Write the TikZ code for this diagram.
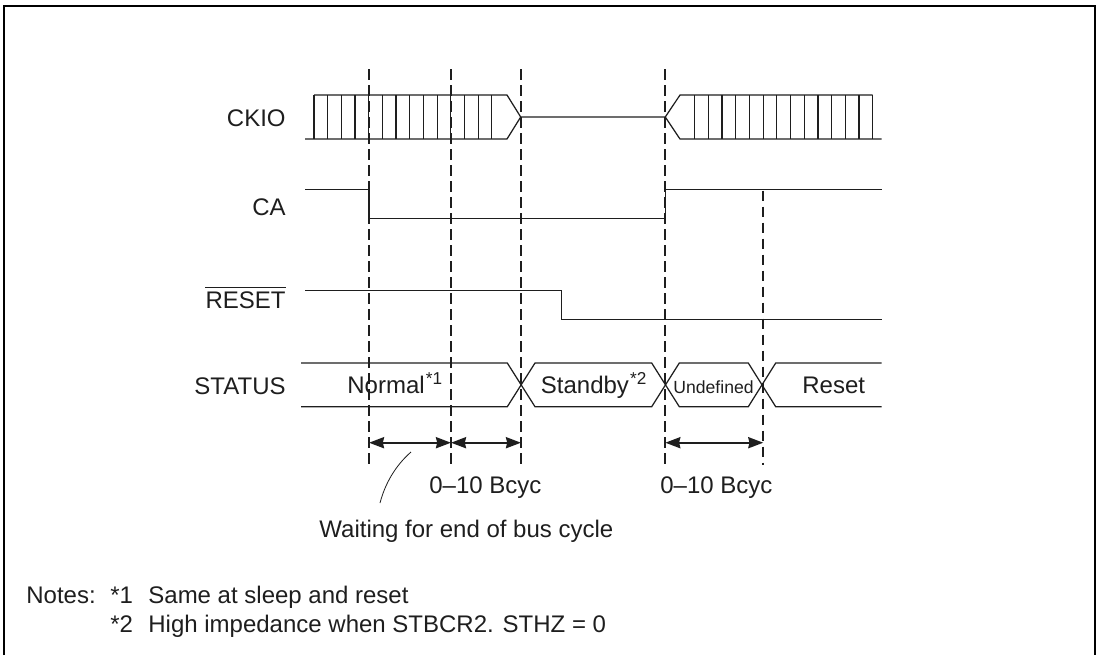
\documentclass[tikz,border=0pt]{standalone}
\usepackage{fontspec}
\setmainfont{Liberation Sans}
\usetikzlibrary{arrows.meta}
\definecolor{sigclr}{RGB}{30,30,30}
\newcommand{\notemark}[1]{\kern0.6pt\raisebox{4.4pt}{\fontsize{8.6}{9}\selectfont #1}}
\tikzset{
  % signal lines
  sigline/.style   = {line width=0.62pt, draw=sigclr},
  guideline/.style = {line width=0.6pt, draw=sigclr, dash pattern=on 5.3pt off 2.7pt},
  frameline/.style = {line width=1pt, draw=black},
  % spans
  dimline/.style   = {{Stealth[length=7.5pt,width=5.5pt,inset=0.6pt]}-{Stealth[length=7.5pt,width=5.5pt,inset=0.6pt]}, line width=1.15pt, draw=sigclr},
  barline/.style   = {line width=0.5pt, draw=sigclr},
  leaderline/.style= {line width=0.4pt, draw=sigclr},
  % labels
  lab/.style       = {font=\fontsize{12}{14}\selectfont, text=sigclr, inner sep=0pt},
  labsmall/.style  = {font=\fontsize{8.8}{10}\selectfont, text=sigclr, inner sep=0pt},
}
\begin{document}
\begin{tikzpicture}[x=0.5pt,y=-0.5pt]
  \useasboundingbox (0,0) rectangle (1100,655);
  \draw[frameline] (4,655) -- (4,6) -- (1095,6) -- (1095,655);
  % guides
  \foreach \x in {369,451,521,665}
    \draw[guideline] (\x,69) -- (\x,464.5);
  \draw[guideline] (763,190.5) -- (763,464.5);
  % CKIO
  \draw[sigline] (305,139) -- (507,139) -- (520.7,117) -- (665.3,117) -- (680,139) -- (881.7,139);
  \draw[sigline] (314,95) -- (507,95) -- (520.7,117);
  \draw[sigline] (665.3,117) -- (680,95) -- (872.7,95);
  \foreach \i in {0,...,13} {
    \draw[sigline] ({314+13.68*\i},95) -- ({314+13.68*\i},139);
    \draw[sigline] ({694.7+13.69*\i},95) -- ({694.7+13.69*\i},139);
  }
  % CA
  \draw[sigline] (305,189.7) -- (369,189.7) -- (369,218.7) -- (665.3,218.7) -- (665.3,189.7) -- (881.7,189.7);
  % RESET
  \draw[sigline] (305,290.7) -- (561.7,290.7) -- (561.7,319.3) -- (881.7,319.3);
  % STATUS
  \draw[sigline] (301,363) -- (507.3,363) -- (535,406.7) -- (651.7,406.7) -- (679.3,363) -- (748.3,363) -- (775.7,406.7) -- (881.7,406.7);
  \draw[sigline] (301,406.7) -- (507.3,406.7) -- (535,363) -- (651.7,363) -- (679.3,406.7) -- (748.3,406.7) -- (775.7,363) -- (881.7,363);
  % spans
  \coordinate (spanA) at (369,442.7);
  \coordinate (spanB) at (451,442.7);
  \coordinate (spanC) at (521,442.7);
  \coordinate (spanD) at (665.3,442.7);
  \coordinate (spanE) at (763.3,442.7);
  \draw[dimline] (spanA) -- (spanB);
  \draw[dimline] (spanB) -- (spanC);
  \draw[dimline] (spanD) -- (spanE);
  \coordinate (leadtop) at (411,452);
  \coordinate (leadend) at (380,503);
  \draw[leaderline] (leadtop) .. controls (395,466) and (385,484) .. (leadend);
  % signal names
  \node[lab,anchor=base east] (ckiolab) at (286,126.5) {CKIO};
  \node[lab,anchor=base east] (calab) at (286,215.5) {CA};
  \node[lab,anchor=base east] (resetlab) at (286,308.5) {RESET};
  \draw[barline] (resetlab.north west |- 0,287) -- (resetlab.north east |- 0,287);
  \node[lab,anchor=base east] (statuslab) at (286,394.5) {STATUS};
  % states
  \node[lab,anchor=base west] (normallab) at (347,393.7) {Normal\notemark{*1}};
  \node[lab,anchor=base west] (standbylab) at (540.5,393.7) {Standby\notemark{*2}};
  \node[labsmall,anchor=base west] (undeflab) at (673,393) {Undefined};
  \node[lab,anchor=base west] (resetstate) at (802,393.7) {Reset};
  % texts under the chart
  \node[lab,anchor=base west] (bcycA) at (429,493.7) {0–10 Bcyc};
  \node[lab,anchor=base west] (bcycB) at (660,493.7) {0–10 Bcyc};
  \node[lab,anchor=base west] (waitlab) at (319,537.7) {Waiting for end of bus cycle};
  \node[lab,anchor=base west] (noteshead) at (26,603.7) {Notes:};
  \node[lab,anchor=base west] (noteAmark) at (110,603.7) {*1};
  \node[lab,anchor=base west] (noteA) at (148,603.7) {Same at sleep and reset};
  \node[lab,anchor=base west] (noteBmark) at (110,632.7) {*2};
  \node[lab,anchor=base west] (noteB) at (148,632.7) {High impedance when STBCR2. STHZ = 0};
\end{tikzpicture}
\end{document}
